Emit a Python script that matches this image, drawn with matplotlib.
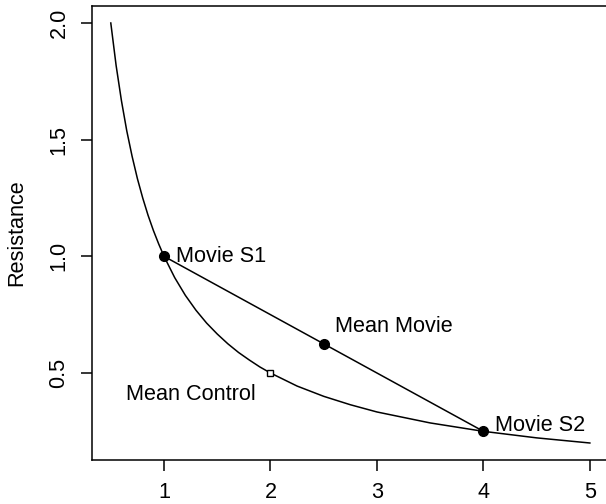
import numpy as np
import matplotlib
matplotlib.use("Agg")
import matplotlib.pyplot as plt

plt.rcParams['font.family'] = ['Liberation Sans', 'DejaVu Sans']

# indifference curve, values
curve_x = [0.50, 0.55, 0.60, 0.65, 0.70, 0.75, 0.80, 0.85, 0.90, 0.95, 1.00,
           1.10, 1.20, 1.30, 1.40, 1.50, 1.60, 1.70, 1.80, 1.90, 2.00,
           2.25, 2.50, 2.75, 3.00, 3.50, 4.00, 4.50, 5.00]
curve_y = [2.000, 1.818, 1.667, 1.538, 1.429, 1.333, 1.250, 1.176, 1.111, 1.053, 1.000,
           0.909, 0.833, 0.769, 0.714, 0.667, 0.625, 0.588, 0.556, 0.526, 0.500,
           0.444, 0.400, 0.364, 0.333, 0.286, 0.250, 0.222, 0.200]

# movie sessions and their mean
movie_names = ["Movie S1", "Mean Movie", "Movie S2"]
movie_x = [1.0, 2.5, 4.0]
movie_y = [1.0, 0.625, 0.25]

# control mean
control_name = "Mean Control"
control_x = [2.0]
control_y = [0.5]

fig = plt.figure(figsize=(6.06, 5.04), dpi=100)
ax = fig.add_axes([0.1512, 0.0877, 0.8538, 0.9])

ax.plot(curve_x, curve_y, color='black', lw=1.1)
ax.plot([movie_x[0], movie_x[-1]], [movie_y[0], movie_y[-1]], color='black', lw=1.1)
ax.plot(movie_x, movie_y, 'o', color='black', markersize=7)
ax.plot(control_x, control_y, 's', markerfacecolor='white', markeredgecolor='black',
        markersize=5, markeredgewidth=1)

# labels
fs = 15.6
ax.text(1.11, 1.0, movie_names[0], fontsize=fs, va='center', ha='left')
ax.text(2.61, 0.70, movie_names[1], fontsize=fs, va='center', ha='left')
ax.text(4.11, 0.277, movie_names[2], fontsize=fs, va='center', ha='left')
ax.text(0.643, 0.406, control_name, fontsize=fs, va='center', ha='left')

ax.set_xlim(0.32, 5.18)
ax.set_ylim(0.128, 2.072)
ax.set_xticks([1, 2, 3, 4, 5])
ax.set_yticks([0.5, 1.0, 1.5, 2.0])
ax.set_yticklabels(['0.5', '1.0', '1.5', '2.0'], rotation=90, va='center')
ax.tick_params(axis='both', length=8, width=1.1, labelsize=fs, color='black')
ax.tick_params(axis='x', pad=8)
ax.tick_params(axis='y', pad=8)
for s in ax.spines.values():
    s.set_linewidth(1.1)

ax.set_ylabel("Resistance", fontsize=fs, labelpad=15)

fig.savefig("out.png", dpi=100)
